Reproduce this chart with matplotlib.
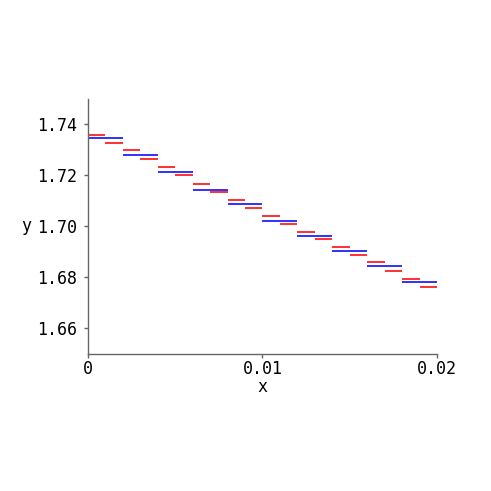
import numpy as np
import matplotlib
matplotlib.use('Agg')
import matplotlib.pyplot as plt

# red steps: h = 0.001
red_x = [i * 0.001 for i in range(21)]
red_y = [1.7358, 1.7328, 1.7297, 1.7265, 1.7231, 1.7200, 1.7166, 1.7135, 1.7103, 1.7072,
         1.7041, 1.7007, 1.6976, 1.6948, 1.6918, 1.6886, 1.6858, 1.6825, 1.6793, 1.6762]
# blue steps: h = 0.002
blue_x = [i * 0.002 for i in range(11)]
blue_y = [1.7344, 1.7278, 1.7212, 1.7142, 1.7085, 1.7021, 1.6961, 1.6902, 1.6843, 1.6780]

fig = plt.figure(figsize=(4.91, 4.91), dpi=100)
ax = fig.add_axes([0.179, 0.28, 0.711, 0.519])

ax.hlines(red_y, red_x[:-1], red_x[1:], color='#ff2020', linewidth=1.3)
ax.hlines(blue_y, blue_x[:-1], blue_x[1:], color='#2020ff', linewidth=1.3)

ax.set_xlim(0, 0.02)
ax.set_ylim(1.65, 1.75)
ax.set_xticks([0, 0.01, 0.02])
ax.set_xticklabels(['0', '0.01', '0.02'])
ax.set_yticks([1.66, 1.68, 1.70, 1.72, 1.74])
ax.set_yticklabels(['1.66', '1.68', '1.70', '1.72', '1.74'])

for s in ['top', 'right']:
    ax.spines[s].set_visible(False)
for s in ['left', 'bottom']:
    ax.spines[s].set_color('#666666')
    ax.spines[s].set_linewidth(1.0)

ax.tick_params(length=3, width=1, color='#666666', labelsize=12)
ax.tick_params(axis='x', pad=2)
ax.tick_params(axis='y', pad=5)
for lab in ax.get_xticklabels() + ax.get_yticklabels():
    lab.set_family('DejaVu Sans Mono')

ax.set_xlabel('x', fontsize=12, family='DejaVu Sans Mono', labelpad=0)
ax.set_ylabel('y', fontsize=12, family='DejaVu Sans Mono', rotation=0, labelpad=8, va='center')

fig.savefig('out.png', dpi=100)
